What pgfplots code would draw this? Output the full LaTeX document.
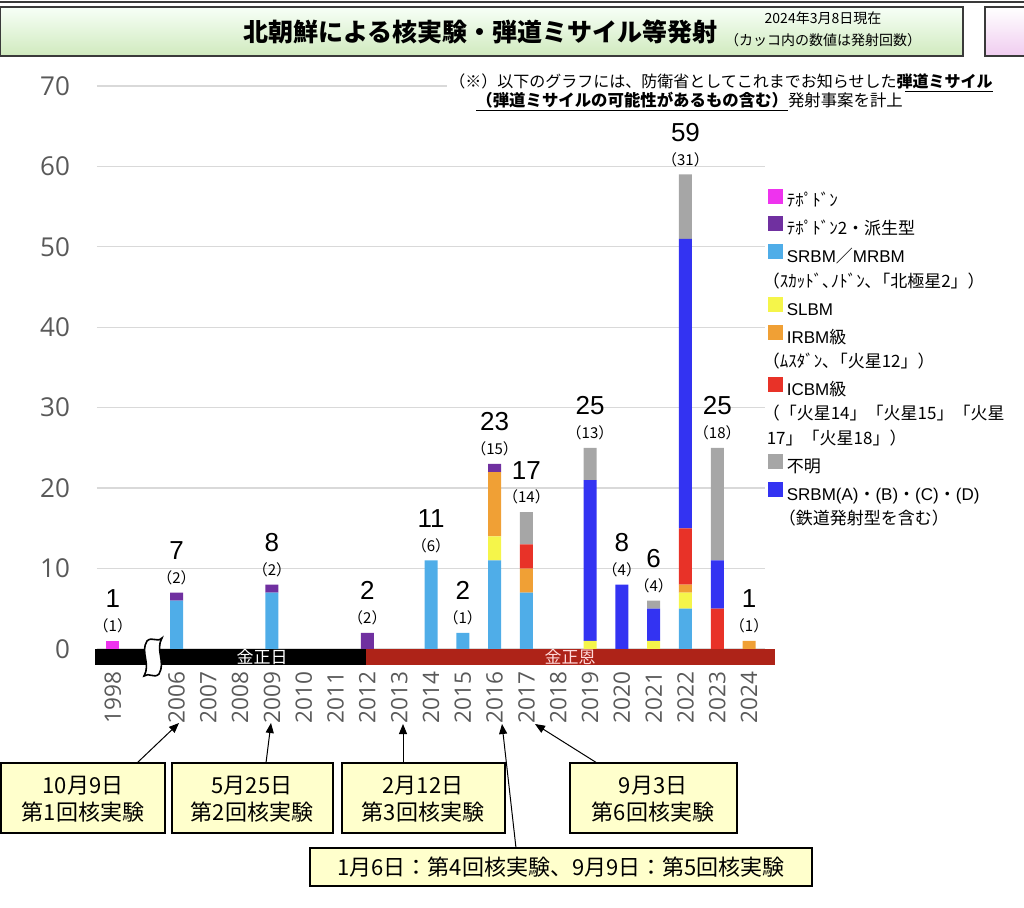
\documentclass[border=0pt]{standalone}
\usepackage{pgfplots}
\pgfplotsset{compat=1.18}
\usepackage{pgfplotstable}
\usepackage{fontspec}
\usetikzlibrary{arrows.meta}
\setmainfont{Noto Sans CJK JP}
\newfontfamily\opensans{Open Sans}
\newfontfamily\arial{Liberation Sans}
\definecolor{cTp}{HTML}{EE33EE}
\definecolor{cTp2}{HTML}{7030A0}
\definecolor{cSR}{HTML}{4FADE8}
\definecolor{cSL}{HTML}{F5F54A}
\definecolor{cIR}{HTML}{F0A035}
\definecolor{cIC}{HTML}{E83228}
\definecolor{cUn}{HTML}{A6A6A6}
\definecolor{cSA}{HTML}{3333F2}
\definecolor{cEra}{HTML}{AE2318}
\definecolor{tickgray}{HTML}{595959}
\definecolor{gridgray}{HTML}{D9D9D9}
\definecolor{boxyel}{HTML}{FFFFCC}
\definecolor{frame}{HTML}{3A3A3A}

\pgfplotstableread{
x tp srbm slbm irbm icbm srbma unk tp2
0 1 0 0 0 0 0 0 0
2 0 6 0 0 0 0 0 1
3 0 0 0 0 0 0 0 0
4 0 0 0 0 0 0 0 0
5 0 7 0 0 0 0 0 1
6 0 0 0 0 0 0 0 0
7 0 0 0 0 0 0 0 0
8 0 0 0 0 0 0 0 2
9 0 0 0 0 0 0 0 0
10 0 11 0 0 0 0 0 0
11 0 2 0 0 0 0 0 0
12 0 11 3 8 0 0 0 1
13 0 7 0 3 3 0 4 0
14 0 0 0 0 0 0 0 0
15 0 0 1 0 0 20 4 0
16 0 0 0 0 0 8 0 0
17 0 0 1 0 0 4 1 0
18 0 5 2 1 7 36 8 0
19 0 0 0 0 5 6 14 0
20 0 0 0 1 0 0 0 0
}\bars

\pgfplotstableread{
x total count
0 1 1
2 7 2
5 8 2
8 2 2
10 11 6
11 2 1
12 23 15
13 17 14
15 25 13
16 8 4
17 6 4
18 59 31
19 25 18
20 1 1
}\labels

\pgfplotsset{base/.style={scale only axis, width=334pt, height=289.5pt,
  xmin=-0.5, xmax=20.5, ymin=-2, ymax=70, at={(48.5pt,121pt)}, anchor=south west, clip=false}}

\begin{document}
\begin{tikzpicture}[x=0.5pt,y=0.5pt]
\path[use as bounding box] (0,0) rectangle (1024,907);
% header
\draw[line width=1pt, draw=frame] (0,905) -- (1024,905);
\shade[top color=white!60!green!8, bottom color={rgb,255:red,208;green,234;blue,190}] (0,851) rectangle (963,900);
\draw[line width=1pt, draw=frame] (0,851) rectangle (963,900);
\shade[top color=white, bottom color={rgb,255:red,240;green,205;blue,240}] (985,851) rectangle (1030,900);
\draw[line width=1pt, draw=frame] (985,851) rectangle (1030,900);
\node[anchor=west, font=\bfseries\fontsize{12.5}{13}\selectfont, inner sep=0pt] at (243,875) {北朝鮮による核実験・弾道ミサイル等発射};
\node[align=center, font=\fontsize{7}{11}\selectfont, inner sep=0pt] at (823,878) {2024年3月8日現在\\（カッコ内の数値は発射回数）};

\begin{axis}[base, ybar stacked, bar width=6.5pt,
  ytick={0,10,...,70},
  xtick={0,2,3,...,20},
  xticklabels={1998,2006,2007,2008,2009,2010,2011,2012,2013,2014,2015,2016,2017,2018,2019,2020,2021,2022,2023,2024},
  ymajorgrids, grid style={gridgray, line width=0.6pt},
  axis line style={draw=none}, tick style={draw=none},
  /pgf/number format/assume math mode=true,
  yticklabel style={font=\opensans\fontsize{13}{14}\selectfont, text=tickgray, xshift=-10pt},
  xticklabel style={font=\opensans\fontsize{11.3}{12}\selectfont, text=tickgray, rotate=90, anchor=east},
]
\addplot[fill=cTp, draw=none] table[x=x,y=tp]{\bars};
\addplot[fill=cSR, draw=none] table[x=x,y=srbm]{\bars};
\addplot[fill=cSL, draw=none] table[x=x,y=slbm]{\bars};
\addplot[fill=cIR, draw=none] table[x=x,y=irbm]{\bars};
\addplot[fill=cIC, draw=none] table[x=x,y=icbm]{\bars};
\addplot[fill=cSA, draw=none] table[x=x,y=srbma]{\bars};
\addplot[fill=cUn, draw=none] table[x=x,y=unk]{\bars};
\addplot[fill=cTp2, draw=none] table[x=x,y=tp2]{\bars};
\fill[black] (axis cs:-0.57,-2) rectangle (axis cs:7.95,0);
\fill[cEra] (axis cs:7.95,-2) rectangle (axis cs:20.82,0);
\end{axis}

\begin{axis}[base, hide axis,
  legend cell align=left,
  legend style={at={(1.0045,0.823)}, anchor=north west, draw=none, fill=none,
    inner sep=0pt, outer sep=0pt, row sep=2.25pt, column sep=2pt,
    font=\fontsize{8.5}{10}\selectfont,
    nodes={inner sep=0pt, text height=7.5pt, text depth=2.5pt}},
]
\addlegendimage{legend image code/.code={\fill[cTp] (0pt,-0.5pt) rectangle (7pt,6.5pt);}}
\addlegendentry{ﾃﾎﾟﾄﾞﾝ}
\addlegendimage{legend image code/.code={\fill[cTp2] (0pt,-0.5pt) rectangle (7pt,6.5pt);}}
\addlegendentry{ﾃﾎﾟﾄﾞﾝ2・派生型}
\addlegendimage{legend image code/.code={\fill[cSR] (0pt,-0.5pt) rectangle (7pt,6.5pt);}}
\addlegendentry{{\arial SRBM}／{\arial MRBM}}
\addlegendimage{empty legend}
\addlegendentry{\hspace*{-12pt}（ｽｶｯﾄﾞ､ﾉﾄﾞﾝ､「北極星2」）}
\addlegendimage{legend image code/.code={\fill[cSL] (0pt,-0.5pt) rectangle (7pt,6.5pt);}}
\addlegendentry{{\arial SLBM}}
\addlegendimage{legend image code/.code={\fill[cIR] (0pt,-0.5pt) rectangle (7pt,6.5pt);}}
\addlegendentry{{\arial IRBM}級}
\addlegendimage{empty legend}
\addlegendentry{\hspace*{-12pt}（ﾑｽﾀﾞﾝ､「火星12」）}
\addlegendimage{legend image code/.code={\fill[cIC] (0pt,-0.5pt) rectangle (7pt,6.5pt);}}
\addlegendentry{{\arial ICBM}級}
\addlegendimage{empty legend}
\addlegendentry{\hspace*{-12pt}（「火星14」「火星15」「火星}
\addlegendimage{empty legend}
\addlegendentry{\hspace*{-10pt}17」「火星18」）}
\addlegendimage{legend image code/.code={\fill[cUn] (0pt,-0.5pt) rectangle (7pt,6.5pt);}}
\addlegendentry{不明}
\addlegendimage{legend image code/.code={\fill[cSA] (0pt,-0.5pt) rectangle (7pt,6.5pt);}}
\addlegendentry{{\arial SRBM(A)}・{\arial (B)}・{\arial (C)}・{\arial (D)}}
\addlegendimage{empty legend}
\addlegendentry{\hspace*{-4pt}（鉄道発射型を含む）}
\addplot[draw=none, mark=none, forget plot, point meta=explicit symbolic,
  nodes near coords={\pgfplotspointmeta},
  every node near coord/.append style={anchor=center, yshift=21pt, font=\arial\fontsize{13}{13}\selectfont}]
  table[x=x, y=total, meta=total]{\labels};
\addplot[draw=none, mark=none, forget plot, point meta=explicit symbolic,
  nodes near coords={（\pgfplotspointmeta）},
  every node near coord/.append style={anchor=center, yshift=7.5pt, font=\fontsize{7.5}{8}\selectfont}]
  table[x=x, y=total, meta=count]{\labels};
\end{axis}

\begin{scope}[shift={(0,907)}, yscale=-1]
% era names
\node[text=white, font=\fontsize{8.5}{9}\selectfont, inner sep=0pt] at (262,657) {金正日};
\node[text=white!85!red, font=\fontsize{8.5}{9}\selectfont, inner sep=0pt] at (570,657) {金正恩};
% note
\node[anchor=west, fill=white, inner sep=1pt, font=\fontsize{8}{9}\selectfont] at (447,83) {（※）以下のグラフには、防衛省としてこれまでお知らせした\underline{\textbf{弾道ミサイル}}};
\node[anchor=west, fill=white, inner sep=1pt, font=\fontsize{8.2}{9}\selectfont] at (474,102) {\underline{\textbf{（弾道ミサイルの可能性があるもの含む）}}発射事案を計上};
% break symbol
\draw[fill=white, line width=0.8pt] (147,641) .. controls (152,636) and (157,643) .. (162,638)
  .. controls (155,650) and (166,662) .. (159,674)
  .. controls (154,679) and (149,672) .. (144,676)
  .. controls (151,664) and (140,652) .. cycle;
% arrows
\draw[line width=0.5pt, -{Triangle[length=5pt,width=4pt]}] (137,763) -- (179,723);
\draw[line width=0.5pt, -{Triangle[length=5pt,width=4pt]}] (266,763) -- (271,723);
\draw[line width=0.5pt, -{Triangle[length=5pt,width=4pt]}] (403,763) -- (403,724);
\draw[line width=0.5pt, -{Triangle[length=5pt,width=4pt]}] (597,763) -- (535,724);
\draw[line width=0.5pt, -{Triangle[length=5pt,width=4pt]}] (516,848) -- (502,724);
% boxes
\draw[fill=boxyel, line width=1.2pt] (1,763) rectangle (165,833);
\node[align=center, font=\fontsize{11}{13.5}\selectfont] at (83,799) {10月9日\\第1回核実験};
\draw[fill=boxyel, line width=1.2pt] (172,763) rectangle (333,833);
\node[align=center, font=\fontsize{11}{13.5}\selectfont] at (252,799) {5月25日\\第2回核実験};
\draw[fill=boxyel, line width=1.2pt] (342,763) rectangle (505,833);
\node[align=center, font=\fontsize{11}{13.5}\selectfont] at (423,799) {2月12日\\第3回核実験};
\draw[fill=boxyel, line width=1.2pt] (570,763) rectangle (737,833);
\node[align=center, font=\fontsize{11}{13.5}\selectfont] at (653,799) {9月3日\\第6回核実験};
\draw[fill=boxyel, line width=1.2pt] (310,848) rectangle (812,886);
\node[align=center, font=\fontsize{11}{13.5}\selectfont] at (561,867) {1月6日：第4回核実験、9月9日：第5回核実験};
\end{scope}
\end{tikzpicture}
\end{document}
